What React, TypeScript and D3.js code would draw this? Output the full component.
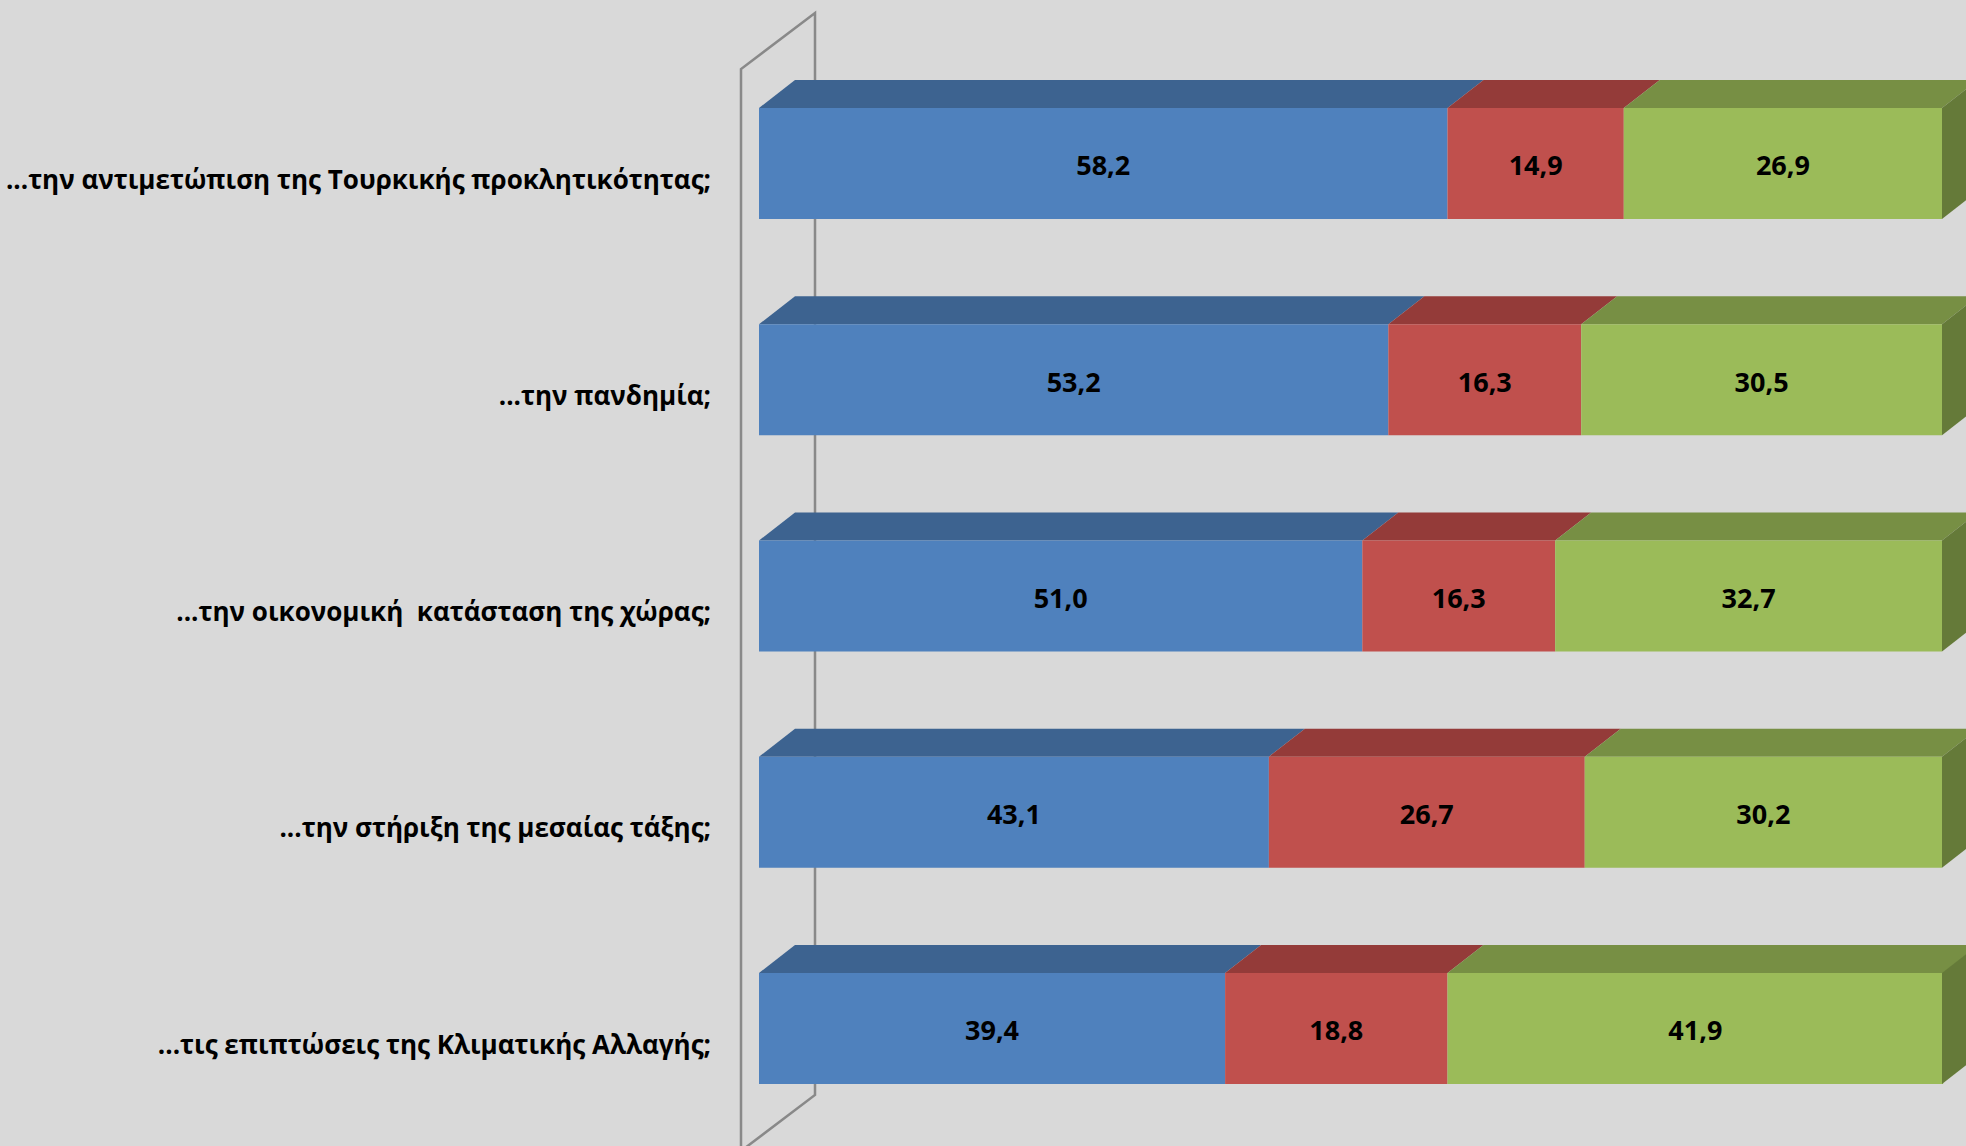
import React from "react";
import * as d3 from "d3";

const categories = [
  "...την αντιμετώπιση της Τουρκικής προκλητικότητας;",
  "...την πανδημία;",
  "...την οικονομική  κατάσταση της χώρας;",
  "...την στήριξη της μεσαίας τάξης;",
  "...τις επιπτώσεις της Κλιματικής Αλλαγής;",
];
const seriesBlue = [58.2, 53.2, 51.0, 43.1, 39.4];
const seriesRed = [14.9, 16.3, 16.3, 26.7, 18.8];
const seriesGreen = [26.9, 30.5, 32.7, 30.2, 41.9];

const W = 1966;
const H = 1146;
const FRONT = ["#4F81BD", "#C0504D", "#9BBB59"];
const TOP = ["#3D6390", "#943B39", "#778F44"];
const SIDE = ["#3A5E89", "#8C3836", "#657A39"];
const DX = 36;
const DY = 28;

export default function App() {
  const x = d3.scaleLinear().domain([0, 100]).range([759, 1942]);
  const y = d3
    .scaleBand<string>()
    .domain(categories)
    .range([108, 1084])
    .paddingInner(0.4867)
    .paddingOuter(0);
  const bw = y.bandwidth();
  const series = [seriesBlue, seriesRed, seriesGreen];
  const fmt = (v: number) => v.toFixed(1).replace(".", ",");

  return (
    <svg
      width={W}
      height={H}
      style={{ position: "absolute", left: 0, top: 0, display: "block" }}
    >
      <rect x={0} y={0} width={W} height={H} fill="#D9D9D9" />
      {/* 3D wall */}
      <g fill="none" stroke="#898989" strokeWidth={2.5}>
        <polyline points={`741,${H + 10} 741,69 815,13 815,1095 741,1151`} />
      </g>
      {categories.map((c, i) => {
        const y0 = y(c) as number;
        const stacks = d3
          .stack<number>()
          .keys(["0", "1", "2"])
          .value((_d, k) => series[+k][i])([0]);
        return (
          <g key={c}>
            {stacks.map((s, k) => {
              const x0 = x(s[0][0]);
              const x1 = x(s[0][1]);
              return (
                <g key={k}>
                  <polygon
                    points={`${x0},${y0} ${x0 + DX},${y0 - DY} ${x1 + DX},${y0 - DY} ${x1},${y0}`}
                    fill={TOP[k]}
                  />
                  <rect x={x0} y={y0} width={x1 - x0} height={bw} fill={FRONT[k]} />
                </g>
              );
            })}
            <polygon
              points={`${x(100)},${y0} ${x(100) + DX},${y0 - DY} ${x(100) + DX},${y0 - DY + bw} ${x(100)},${y0 + bw}`}
              fill={SIDE[2]}
            />
            {stacks.map((s, k) => (
              <text
                key={"t" + k}
                x={(x(s[0][0]) + x(s[0][1])) / 2}
                y={y0 + bw / 2 + 2.5}
                dy="0.35em"
                textAnchor="middle"
                fontFamily="'Open Sans', sans-serif"
                fontWeight="bold"
                fontSize={27}
                fill="#000"
              >
                {fmt(series[k][i])}
              </text>
            ))}
            <text
              x={711}
              y={y0 + bw / 2 + 16}
              dy="0.35em"
              textAnchor="end"
              fontFamily="'Open Sans', sans-serif"
              fontWeight="bold"
              fontSize={26}
              fill="#000"
              style={{ whiteSpace: "pre" }}
            >
              {c}
            </text>
          </g>
        );
      })}
    </svg>
  );
}
